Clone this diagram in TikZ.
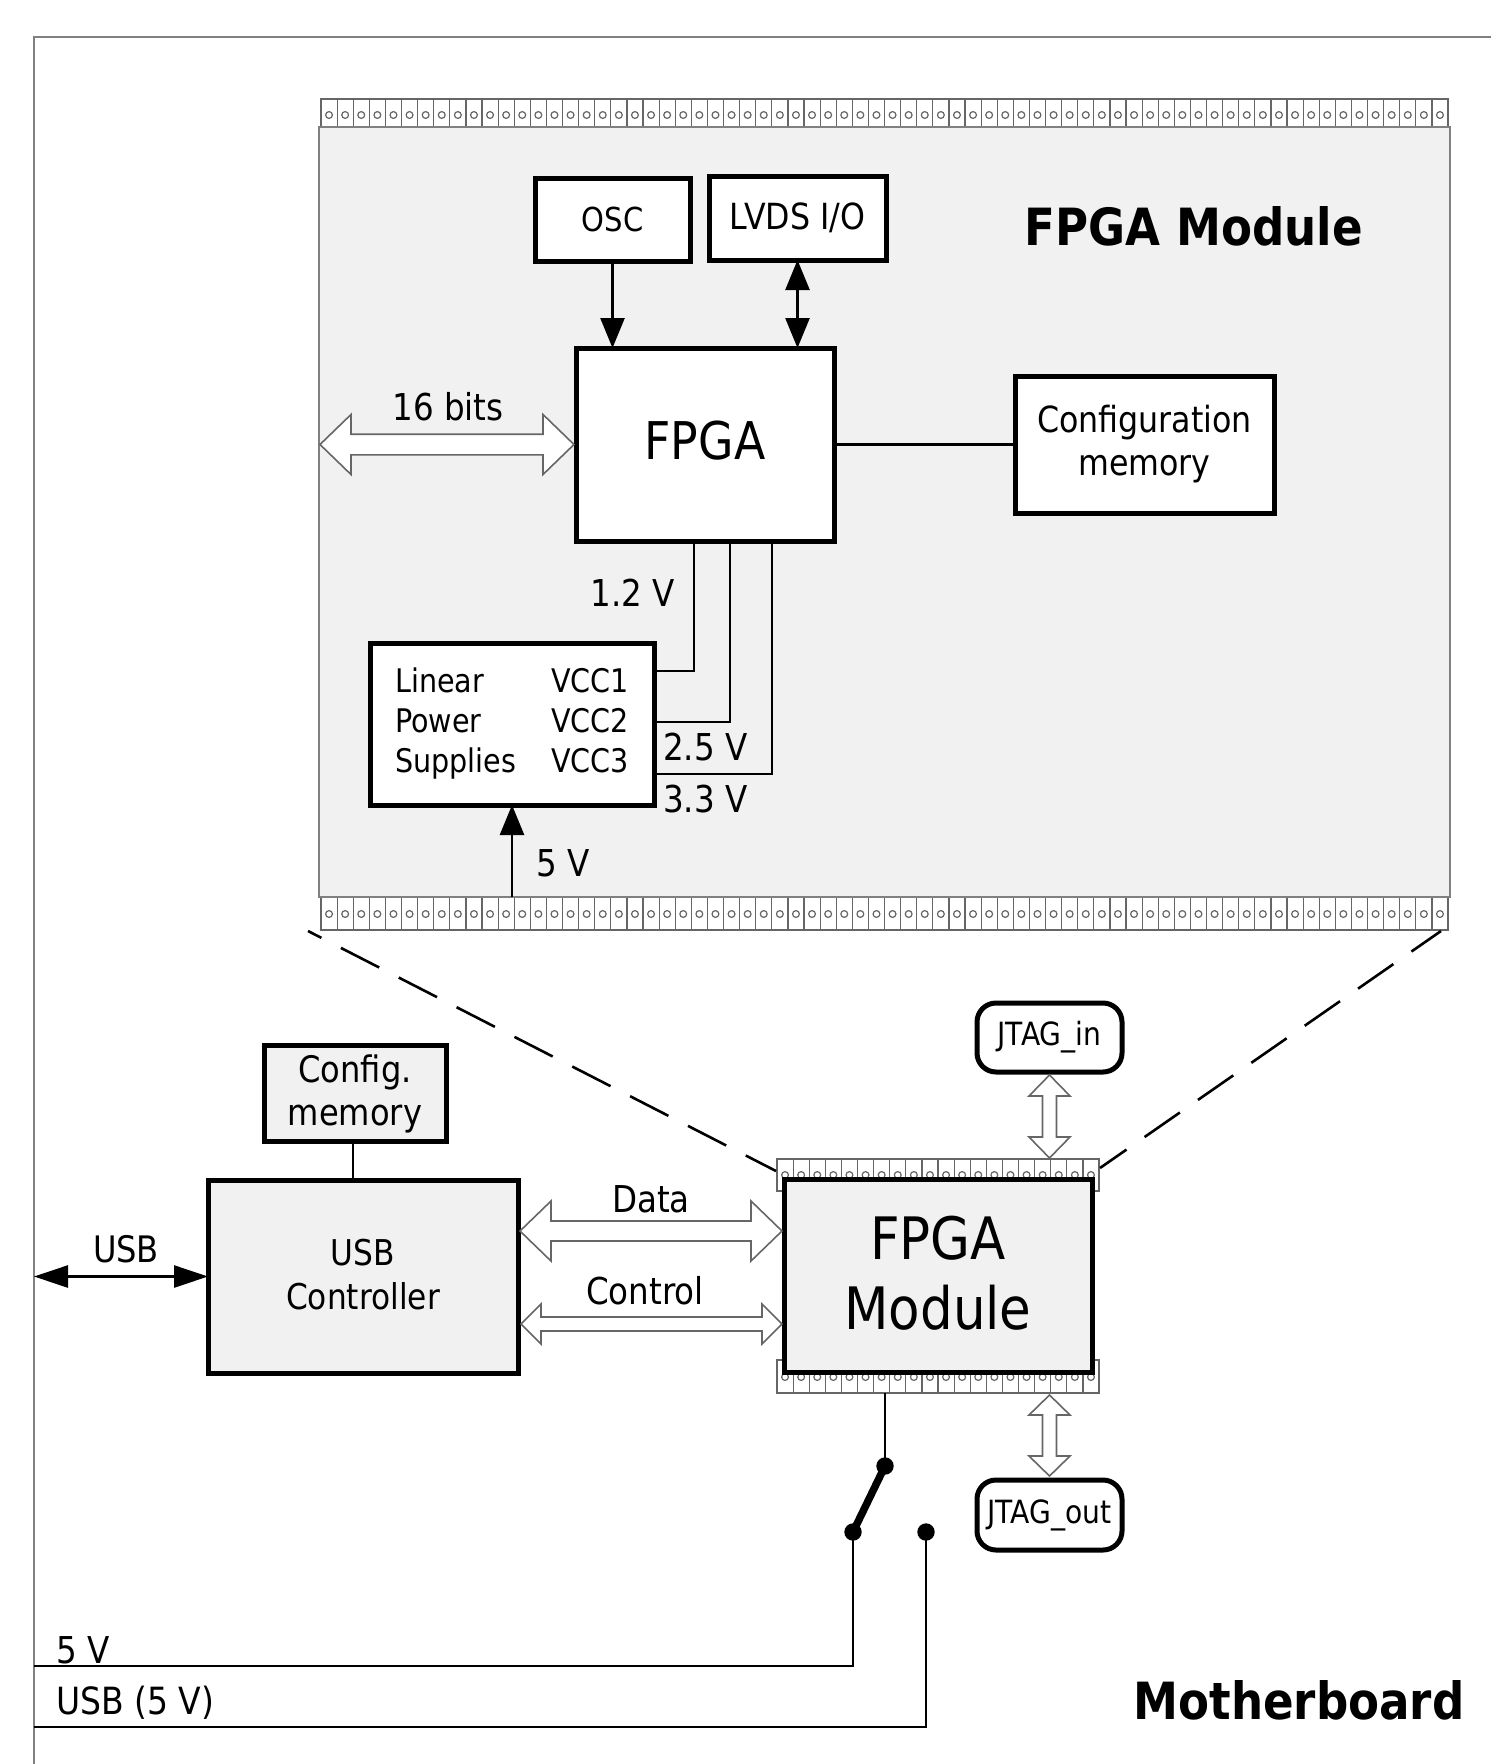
\documentclass[tikz,border=0pt]{standalone}
\usepackage{fontspec}
\setmainfont{DejaVu Sans}[FakeStretch=0.88]
\usetikzlibrary{calc,arrows.meta}

\definecolor{modgrey}{HTML}{F1F1F1}
\definecolor{pingrey}{HTML}{666666}

\tikzset{
  boxnode/.style = {draw, line width=5pt, fill=white, outer sep=0pt, inner sep=0pt, align=center},
  greybox/.style = {boxnode, fill=modgrey},
  jtagbox/.style = {boxnode, rounded corners=19pt, font=\fontsize{32}{38}\selectfont},
  wire/.style = {line width=2.6pt},
  tiparrow/.style = {wire, -{Triangle[length=30pt,width=24pt]}},
  fatline/.style = {draw=pingrey, line width=1.6pt, fill=white, line join=miter},
  pinline/.style = {draw=pingrey, line width=1.2pt},
  midtext/.style = {font=\fontsize{37}{43}\selectfont},
  powertext/.style = {font=\fontsize{32.5}{40}\selectfont, inner sep=0pt},
  volttext/.style = {font=\fontsize{37}{43}\selectfont, inner sep=0pt},
  titletext/.style = {font=\fontsize{51.3}{60}\selectfont\bfseries}
}

% x, y, pins, height, centre of the holes
\newcommand{\pinstrip}[5]{
  \draw[pinline, fill=white] (#1,#2) rectangle ({#1+16.1*#3},{#2+#4});
  \foreach \pin in {1,...,#3} {
    \draw[pinline] ({#1+16.1*\pin},#2) -- ++(0,#4);
    \draw[pinline] ({#1+16.1*\pin-8.05},#5) circle (3.4pt);
  }
}

% from, to, head length, half head, half shaft
\newcommand{\fatarrow}[5]{
  \draw[fatline] (#1)
    -- ($(#1)!#3!(#2)!#4!90:(#2)$) -- ($(#1)!#3!(#2)!#5!90:(#2)$)
    -- ($(#2)!#3!(#1)!#5!-90:(#1)$) -- ($(#2)!#3!(#1)!#4!-90:(#1)$)
    -- (#2)
    -- ($(#2)!#3!(#1)!#4!90:(#1)$) -- ($(#2)!#3!(#1)!#5!90:(#1)$)
    -- ($(#1)!#3!(#2)!#5!-90:(#2)$) -- ($(#1)!#3!(#2)!#4!-90:(#2)$)
    -- cycle;
}

\begin{document}
\begin{tikzpicture}[x=1pt, y=-1pt]
  \useasboundingbox (0,0) rectangle (1491,1764);

  \draw[line width=1.8pt, draw=black!50] (1491,37) -- (34,37) -- (34,1764);

  % FPGA module, enlarged
  \pinstrip{321}{99}{70}{28}{115}
  \pinstrip{321}{897}{70}{33}{914}
  \node[draw=black!50, line width=1.8pt, fill=modgrey, minimum width=1131pt, minimum height=770pt, outer sep=0pt] (board) at (884.5,512) {};

  \node[boxnode, minimum width=155pt, minimum height=83pt, font=\fontsize{33}{40}\selectfont] (osc) at (612.5,219.5) {OSC};
  \node[boxnode, minimum width=177pt, minimum height=84pt, font=\fontsize{36}{40}\selectfont] (lvds) at (797.5,218) {LVDS I/O};
  \node[boxnode, minimum width=258pt, minimum height=193pt, font=\fontsize{52}{60}\selectfont, text depth=9pt] (fpga) at (705,444.5) {FPGA};
  \node[boxnode, minimum width=259pt, minimum height=137pt, font=\fontsize{36}{43}\selectfont] (cfgmem) at (1144.5,444.5) {Configuration\\memory};
  \node[boxnode, minimum width=284pt, minimum height=162pt, powertext] (linear) at (512,724) {%
    \begin{tabular}{@{}l@{\hskip 35pt}l@{}}Linear&VCC1\\Power&VCC2\\Supplies&VCC3\end{tabular}};
  \node[titletext] (fpgatitle) at (1194,226) {FPGA Module};

  \draw[tiparrow] (osc.south) -- (osc.south |- fpga.north);
  \draw[wire, {Triangle[length=30pt,width=24pt]}-{Triangle[length=30pt,width=24pt]}] (lvds.south) -- (lvds.south |- fpga.north);
  \draw[wire] (fpga.east) -- (cfgmem.west);
  \draw[wire] ($(linear.east)+(0,-53)$) -| ($(fpga.south)+(-11,0)$);
  \draw[wire] ($(linear.east)+(0,-2)$) -| ($(fpga.south)+(25,0)$);
  \draw[wire] ($(linear.east)+(0,50)$) -| ($(fpga.south)+(67,0)$);
  \draw[tiparrow] (linear.south |- board.south) -- (linear.south);
  \coordinate (bitsend) at (320,444.5);
  \coordinate (bitsfpga) at (574,444.5);
  \fatarrow{bitsend}{bitsfpga}{31pt}{30pt}{10.3pt}
  \node[midtext] (bits) at (448,407) {16 bits};
  \node[volttext] (v12) at (633,593) {1.2 V};
  \node[volttext, anchor=west] (v25) at (663,747) {2.5 V};
  \node[volttext, anchor=west] (v33) at (663,799) {3.3 V};
  \node[volttext] (v5) at (563,863) {5 V};

  % motherboard
  \pinstrip{777}{1159}{20}{32}{1175}
  \pinstrip{777}{1360}{20}{33}{1377}
  \node[greybox, minimum width=308pt, minimum height=193pt, font=\fontsize{58.5}{70}\selectfont, text depth=5pt] (module) at (938,1275.5) {FPGA\\Module};
  \node[greybox, minimum width=310pt, minimum height=193pt, font=\fontsize{35.5}{44}\selectfont, text depth=4pt] (usbctrl) at (363,1276.5) {USB\\Controller};
  \node[greybox, minimum width=182pt, minimum height=96pt, font=\fontsize{36.5}{43}\selectfont] (usbcfg) at (355,1093.5) {Config.\\memory};
  \node[jtagbox, minimum width=145pt, minimum height=69pt] (jtagin) at (1049.5,1037.5) {JTAG\_in};
  \node[jtagbox, minimum width=145pt, minimum height=70pt] (jtagout) at (1049.5,1515) {JTAG\_out};

  \draw[wire] ($(usbcfg.south)+(-2,0)$) -- ($(usbcfg.south |- usbctrl.north)+(-2,0)$);
  \coordinate (usbfree) at (34,1276.5);
  \draw[wire, {Triangle[length=34pt,width=22pt]}-{Triangle[length=34pt,width=22pt]}] (usbfree) -- (usbctrl.west);
  \node[midtext, font=\fontsize{36.5}{40}\selectfont] (usblabel) at (126,1249) {USB};
  \node[midtext] (datalabel) at (651,1199) {Data};
  \node[midtext] (controllabel) at (645,1291) {Control};

  \coordinate (dataL) at (520,1231);
  \coordinate (dataR) at (782,1231);
  \fatarrow{dataL}{dataR}{31pt}{30pt}{10pt}
  \coordinate (controlL) at (521,1324);
  \coordinate (controlR) at (782,1324);
  \fatarrow{controlL}{controlR}{20pt}{20pt}{7pt}
  \coordinate (jtaginT) at (1049.5,1075);
  \coordinate (jtaginB) at (1049.5,1158);
  \fatarrow{jtaginT}{jtaginB}{21pt}{20.5pt}{7pt}
  \coordinate (jtagoutT) at (1049.5,1395);
  \coordinate (jtagoutB) at (1049.5,1476);
  \fatarrow{jtagoutT}{jtagoutB}{20pt}{20.5pt}{7pt}

  % zoom lines
  \coordinate (zoomLa) at (308,931);
  \coordinate (zoomLb) at (776,1171);
  \coordinate (zoomRa) at (1441,931);
  \coordinate (zoomRb) at (1100,1168);
  \draw[wire, dash pattern=on 43pt off 22pt, dash phase=28pt] (zoomLa) -- (zoomLb);
  \draw[wire, dash pattern=on 43pt off 22pt, dash phase=7pt] (zoomRa) -- (zoomRb);

  % switch
  \coordinate (swtop) at (885,1466);
  \coordinate (swa) at (853,1532);
  \coordinate (swb) at (926,1532);
  \coordinate (rail5) at (34,1666);
  \coordinate (railusb) at (34,1727);
  \draw[wire] (module.south -| swtop) ++(0,21) -- (swtop);
  \draw[line width=7.5pt] (swtop) -- (swa);
  \fill (swtop) circle (8.7pt);
  \fill (swa) circle (8.7pt);
  \fill (swb) circle (8.7pt);
  \draw[wire] (swa) |- (rail5);
  \draw[wire] (swb) |- (railusb);
  \node[volttext, anchor=west] (label5) at (56,1650) {5 V};
  \node[volttext, font=\fontsize{37.5}{43}\selectfont, anchor=west] (labelusb) at (56,1703) {USB (5 V)};
  \node[titletext] (mbtitle) at (1299,1700) {Motherboard};
\end{tikzpicture}
\end{document}
